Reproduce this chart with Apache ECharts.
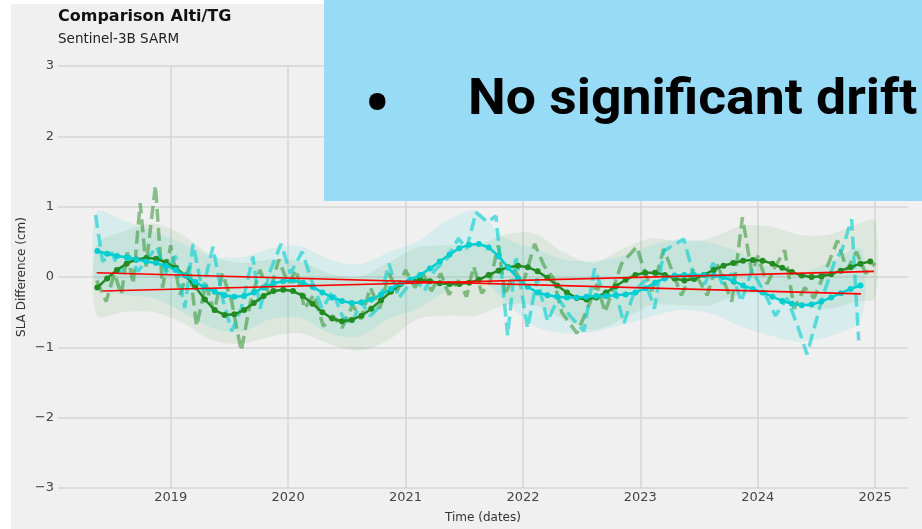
<!DOCTYPE html>
<html>
<head>
<meta charset="utf-8">
<title>Comparison Alti/TG</title>
<script src="https://cdn.jsdelivr.net/npm/echarts@6/dist/echarts.min.js"></script>
<style>
  html, body { margin: 0; padding: 0; background: #ffffff; }
  #chart { width: 922px; height: 529px; }
</style>
</head>
<body>
<div id="chart"></div>
<script>
// time is in decimal years
var yearTicks = [2019, 2020, 2021, 2022, 2023, 2024, 2025];
var yTicks = [-3, -2, -1, 0, 1, 2, 3];

// monthly smoothed series, first month = May 2018
var smoothStart = 2018 + 4.5 / 12;
var greenSmooth = [
  -0.15, -0.02, 0.10, 0.19, 0.25, 0.27, 0.26, 0.21,
  0.13, 0.02, -0.14, -0.32, -0.47, -0.54, -0.53, -0.47, -0.37, -0.27, -0.20, -0.18,
  -0.20, -0.27, -0.38, -0.50, -0.59, -0.63, -0.61, -0.55, -0.45, -0.33, -0.21, -0.10,
  -0.05, -0.04, -0.06, -0.09, -0.10, -0.10, -0.08, -0.04, 0.03, 0.09, 0.14, 0.16,
  0.14, 0.08, -0.01, -0.12, -0.22, -0.30, -0.32, -0.29, -0.22, -0.13, -0.04, 0.03,
  0.06, 0.06, 0.03, -0.02, -0.05, -0.03, 0.03, 0.10, 0.16, 0.20, 0.23, 0.24,
  0.23, 0.19, 0.13, 0.07, 0.02, 0.00, 0.01, 0.04, 0.09, 0.14, 0.19, 0.22
];
var cyanSmooth = [
  0.37, 0.33, 0.30, 0.28, 0.25, 0.22, 0.20, 0.16,
  0.10, 0.02, -0.07, -0.15, -0.21, -0.26, -0.28, -0.27, -0.22, -0.15, -0.09, -0.06,
  -0.05, -0.08, -0.14, -0.22, -0.29, -0.34, -0.37, -0.36, -0.32, -0.25, -0.17, -0.09,
  -0.04, 0.03, 0.12, 0.22, 0.32, 0.41, 0.46, 0.47, 0.42, 0.30, 0.13, -0.02,
  -0.14, -0.22, -0.26, -0.28, -0.29, -0.29, -0.28, -0.27, -0.27, -0.26, -0.25, -0.22,
  -0.16, -0.08, -0.02, 0.02, 0.03, 0.03, 0.03, 0.02, 0.00, -0.06, -0.12, -0.17,
  -0.22, -0.28, -0.34, -0.38, -0.40, -0.39, -0.35, -0.29, -0.23, -0.17, -0.12
];

// raw (dashed) differences
var rawGreenT = [
  2018.37, 2018.45, 2018.52, 2018.58, 2018.63, 2018.68, 2018.74, 2018.79, 2018.87, 2018.93,
  2019.00, 2019.08, 2019.16, 2019.22, 2019.30, 2019.37, 2019.44, 2019.52, 2019.60, 2019.68,
  2019.76, 2019.84, 2019.92, 2020.00, 2020.07, 2020.14, 2020.22, 2020.30, 2020.38, 2020.46,
  2020.55, 2020.62, 2020.70, 2020.78, 2020.86, 2020.93, 2021.00, 2021.08, 2021.15, 2021.22,
  2021.30, 2021.37, 2021.45, 2021.52, 2021.58, 2021.65, 2021.72, 2021.79, 2021.85, 2021.93,
  2022.00, 2022.10, 2022.18, 2022.26, 2022.33, 2022.46, 2022.55, 2022.63, 2022.70, 2022.84,
  2022.97, 2023.02, 2023.10, 2023.20, 2023.35, 2023.45, 2023.57, 2023.65, 2023.78, 2023.87,
  2023.95, 2024.00, 2024.08, 2024.15, 2024.23, 2024.31, 2024.40, 2024.48, 2024.58, 2024.68,
  2024.76, 2024.84, 2024.92, 2025.00
];
var rawGreenV = [
  -0.05, -0.35, 0.05, -0.25, 0.35, -0.10, 1.05, 0.15, 1.30, -0.15,
  0.45, -0.25, 0.15, -0.70, -0.10, -0.50, 0.05, -0.35, -1.05, -0.35,
  0.10, -0.25, 0.25, -0.10, 0.10, -0.45, -0.25, -0.70, -0.55, -0.72,
  -0.40, -0.60, -0.15, -0.45, 0.05, -0.20, 0.10, -0.15, 0.05, -0.20,
  0.05, -0.25, -0.05, -0.28, 0.15, -0.23, -0.07, 0.45, -0.26, 0.10,
  -0.10, 0.47, 0.16, -0.02, -0.50, -0.80, -0.45, -0.10, -0.50, 0.19,
  0.43, 0.16, -0.20, 0.40, -0.26, 0.10, -0.26, 0.20, -0.35, 0.85,
  0.05, 0.30, -0.10, 0.15, 0.38, -0.45, -0.15, -0.30, 0.10, 0.52,
  0.10, 0.36, 0.05, 0.20
];
var rawCyanT = [
  2018.36, 2018.42, 2018.50, 2018.57, 2018.65, 2018.72, 2018.80, 2018.88, 2018.96, 2019.04,
  2019.12, 2019.19, 2019.27, 2019.36, 2019.44, 2019.52, 2019.60, 2019.70, 2019.76, 2019.85,
  2019.94, 2020.02, 2020.12, 2020.20, 2020.29, 2020.38, 2020.46, 2020.54, 2020.62, 2020.70,
  2020.76, 2020.86, 2020.94, 2021.02, 2021.10, 2021.16, 2021.25, 2021.35, 2021.45, 2021.52,
  2021.60, 2021.70, 2021.77, 2021.87, 2021.94, 2022.04, 2022.12, 2022.21, 2022.30, 2022.40,
  2022.52, 2022.61, 2022.70, 2022.78, 2022.86, 2022.95, 2023.04, 2023.12, 2023.20, 2023.37,
  2023.45, 2023.55, 2023.62, 2023.70, 2023.78, 2023.86, 2023.95, 2024.05, 2024.15, 2024.25,
  2024.34, 2024.42, 2024.55, 2024.65, 2024.72, 2024.80, 2024.86
];
var rawCyanV = [
  0.88, 0.22, 0.35, 0.05, 0.30, 0.08, 0.25, 0.43, 0.05, 0.30,
  -0.44, 0.47, -0.20, 0.43, -0.30, -0.77, -0.45, 0.29, -0.45, 0.10,
  0.47, 0.05, 0.36, -0.05, -0.45, -0.20, -0.55, -0.68, -0.35, -0.55,
  -0.45, 0.19, -0.30, -0.13, -0.05, -0.20, 0.10, 0.25, 0.55, 0.40,
  0.92, 0.78, 0.87, -0.83, 0.30, -0.73, -0.02, -0.63, -0.30, -0.55,
  -0.77, 0.12, -0.30, -0.15, -0.66, -0.20, -0.05, -0.45, 0.37, 0.54,
  0.05, -0.10, 0.20, -0.10, 0.05, -0.35, 0.10, -0.20, -0.55, -0.30,
  -0.70, -1.10, -0.30, 0.20, 0.40, 0.82, -0.90
];

// uncertainty envelopes
var greenBandT = [2018.37, 2018.6, 2018.85, 2019.1, 2019.35, 2019.6, 2019.85, 2020.1, 2020.35, 2020.6,
  2020.85, 2021.1, 2021.35, 2021.6, 2021.85, 2022.1, 2022.35, 2022.6, 2022.85, 2023.1,
  2023.35, 2023.6, 2023.85, 2024.1, 2024.35, 2024.6, 2024.85, 2025.0];
var greenUpper = [0.45, 0.65, 0.76, 0.6, 0.3, 0.2, 0.25, 0.22, 0.05, 0.0,
  0.2, 0.42, 0.45, 0.45, 0.6, 0.62, 0.35, 0.2, 0.4, 0.55,
  0.5, 0.55, 0.72, 0.72, 0.6, 0.6, 0.75, 0.8];
var greenLower = [-0.55, -0.5, -0.5, -0.65, -0.9, -0.95, -0.85, -0.8, -0.95, -1.05,
  -0.9, -0.6, -0.55, -0.55, -0.4, -0.4, -0.6, -0.75, -0.6, -0.4,
  -0.4, -0.4, -0.25, -0.25, -0.4, -0.45, -0.35, -0.3];
var cyanBandT = [2018.37, 2018.6, 2018.85, 2019.1, 2019.35, 2019.6, 2019.85, 2020.1, 2020.35, 2020.6,
  2020.85, 2021.1, 2021.35, 2021.6, 2021.85, 2022.1, 2022.35, 2022.6, 2022.85, 2023.1,
  2023.35, 2023.6, 2023.85, 2024.1, 2024.35, 2024.6, 2024.88];
var cyanUpper = [0.93, 0.8, 0.65, 0.48, 0.3, 0.28, 0.4, 0.44, 0.25, 0.18,
  0.35, 0.5, 0.8, 0.94, 0.55, 0.4, 0.25, 0.23, 0.3, 0.45,
  0.54, 0.48, 0.35, 0.15, 0.05, 0.2, 0.4];
var cyanLower = [-0.15, -0.25, -0.3, -0.5, -0.72, -0.78, -0.6, -0.58, -0.8, -0.85,
  -0.6, -0.45, -0.2, 0.0, -0.35, -0.7, -0.8, -0.78, -0.68, -0.56,
  -0.47, -0.52, -0.7, -0.83, -0.92, -0.85, -0.6];

// linear trends
var trendGreenT = [2018.42, 2024.99];
var trendGreenV = [-0.20, 0.08];
var trendCyanT = [2018.37, 2024.88];
var trendCyanV = [0.06, -0.24];

var GREEN = '#228B22';
var CYAN = '#00CED1';

function pairs(ts, vs) {
  return ts.map(function (t, i) { return [t, vs[i]]; });
}
function monthly(start, vs) {
  return vs.map(function (v, i) { return [start + i / 12, v]; });
}
function bandSeries(ts, up, lo, fill) {
  return {
    type: 'custom',
    silent: true,
    z: 1,
    data: ts.map(function (t, i) { return [t, up[i], lo[i]]; }),
    encode: { x: 0, y: [1, 2] },
    renderItem: function (params, api) {
      if (params.dataIndex !== 0) return null;
      var pts = [];
      for (var i = 0; i < ts.length; i++) pts.push(api.coord([ts[i], up[i]]));
      for (var j = ts.length - 1; j >= 0; j--) pts.push(api.coord([ts[j], lo[j]]));
      return {
        type: 'polygon',
        shape: { points: pts, smooth: 0.3 },
        style: { fill: fill }
      };
    }
  };
}

var chart = echarts.init(document.getElementById('chart'));

var option = {
  backgroundColor: '#f0f0f0',
  animation: false,
  title: {
    text: 'Comparison Alti/TG',
    subtext: 'Sentinel-3B SARM',
    left: 58,
    top: 9,
    padding: 0,
    itemGap: 7,
    textStyle: { fontFamily: 'DejaVu Sans', fontSize: 16, fontWeight: 'bold', color: '#111' },
    subtextStyle: { fontFamily: 'DejaVu Sans', fontSize: 13.5, color: '#222' }
  },
  grid: { left: 58, right: 14, top: 66, bottom: 38 },
  xAxis: {
    type: 'value',
    min: 2018.04,
    max: 2025.28,
    name: 'Time (dates)',
    nameLocation: 'middle',
    nameGap: 24,
    nameMoveOverlap: false,
    nameTextStyle: { fontFamily: 'DejaVu Sans', fontSize: 12, color: '#333' },
    axisLine: { show: false },
    axisTick: { show: false, customValues: yearTicks },
    axisLabel: {
      customValues: yearTicks,
      margin: 3,
      fontFamily: 'DejaVu Sans', fontSize: 13, color: '#444',
      formatter: function (v) { return String(v); }
    },
    splitLine: { show: true, lineStyle: { color: '#d6d6d6', width: 1.5 } }
  },
  yAxis: {
    type: 'value',
    min: -3,
    max: 3,
    interval: 1,
    name: 'SLA Difference (cm)',
    nameLocation: 'middle',
    nameGap: 30,
    nameMoveOverlap: false,
    nameTextStyle: { fontFamily: 'DejaVu Sans', fontSize: 12, color: '#333' },
    axisLine: { show: false },
    axisTick: { show: false },
    axisLabel: {
      margin: 4,
      fontFamily: 'DejaVu Sans', fontSize: 13, color: '#444',
      formatter: function (v) { return v < 0 ? '\u2212' + (-v) : String(v); }
    },
    splitLine: { show: true, lineStyle: { color: '#d6d6d6', width: 1.5 } }
  },
  series: [
    bandSeries(greenBandT, greenUpper, greenLower, 'rgba(34,139,34,0.09)'),
    bandSeries(cyanBandT, cyanUpper, cyanLower, 'rgba(0,206,209,0.1)'),
    {
      name: 'raw green', type: 'line', z: 2, showSymbol: false,
      data: pairs(rawGreenT, rawGreenV),
      lineStyle: { color: GREEN, width: 3.5, opacity: 0.5, type: [13, 6] }
    },
    {
      name: 'raw cyan', type: 'line', z: 2, showSymbol: false,
      data: pairs(rawCyanT, rawCyanV),
      lineStyle: { color: CYAN, width: 3.5, opacity: 0.6, type: [13, 6] }
    },
    {
      name: 'green smooth', type: 'line', z: 3,
      data: monthly(smoothStart, greenSmooth),
      symbol: 'circle', symbolSize: 6, showAllSymbol: true,
      itemStyle: { color: GREEN },
      lineStyle: { color: GREEN, width: 2.5 }
    },
    {
      name: 'cyan smooth', type: 'line', z: 3,
      data: monthly(smoothStart, cyanSmooth),
      symbol: 'circle', symbolSize: 6, showAllSymbol: true,
      itemStyle: { color: CYAN },
      lineStyle: { color: CYAN, width: 2.5 }
    },
    {
      name: 'trend green', type: 'line', z: 4, showSymbol: false,
      data: pairs(trendGreenT, trendGreenV),
      lineStyle: { color: '#ff0000', width: 1.6 }
    },
    {
      name: 'trend cyan', type: 'line', z: 4, showSymbol: false,
      data: pairs(trendCyanT, trendCyanV),
      lineStyle: { color: '#ff0000', width: 1.6 }
    }
  ],
  graphic: [
    { type: 'rect', z: 100, shape: { x: 0, y: 0, width: 11, height: 529 }, style: { fill: '#ffffff' } },
    { type: 'rect', z: 100, shape: { x: 0, y: 0, width: 922, height: 4 }, style: { fill: '#ffffff' } },
    { type: 'rect', z: 100, shape: { x: 324, y: 0, width: 598, height: 201 }, style: { fill: '#97dbf7' } },
    {
      type: 'text', z: 101, x: 377, y: 109,
      style: { text: '\u2022', fontFamily: 'Roboto', fontSize: 70, fontWeight: 'bold', fill: '#000',
               align: 'center', verticalAlign: 'middle' }
    },
    {
      type: 'text', z: 101, x: 468, y: 101, scaleX: 1.07,
      style: { text: 'No significant drift', fontFamily: 'Roboto', fontSize: 50, fontWeight: 'bold', fill: '#000',
               align: 'left', verticalAlign: 'middle' }
    }
  ]
};

chart.setOption(option);
</script>
</body>
</html>
